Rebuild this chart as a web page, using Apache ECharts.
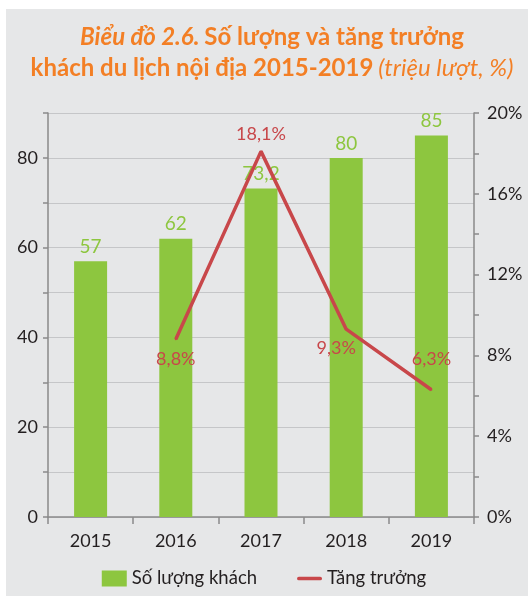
<!DOCTYPE html>
<html>
<head>
<meta charset="utf-8">
<script src="https://cdn.jsdelivr.net/npm/echarts@6/dist/echarts.min.js"></script>
<style>
  html, body { margin: 0; padding: 0; background: #fff; }
  #main { width: 528px; height: 596px; }
</style>
</head>
<body>
<div id="main"></div>
<script>
// dữ liệu
var years = ['2015', '2016', '2017', '2018', '2019'];
var soLuong = [57, 62, 73.2, 80, 85];          // triệu lượt
var tangTruong = [null, 8.8, 18.1, 9.3, 6.3];  // %
var soLuongText = ['57', '62', '73,2', '80', '85'];
var tangTruongText = ['', '8,8%', '18,1%', '9,3%', '6,3%'];

var FONT = 'Lato, "Noto Sans", sans-serif';
var GREEN = '#8dc63f';
var RED = '#c8474a';
var ORANGE = '#f37f25';

// vị trí nhãn đường
var linePos = [null,
  { position: 'bottom', distance: 10 },
  { position: 'top', distance: 7 },
  { position: 'bottom', distance: 9, offset: [-10, 0] },
  { position: 'top', distance: 21 }];

var myChart = echarts.init(document.getElementById('main'));
var option = {
  backgroundColor: '#fff',
  animation: false,
  graphic: [{
    type: 'rect', z: -10, silent: true,
    shape: { x: 6, y: 9, width: 522, height: 587 },
    style: { fill: '#e6e7e8' }
  }],
  title: {
    top: 17,
    left: 267,
    textAlign: 'center',
    text: '{i|Biểu đồ 2.6.} {b|Số lượng và tăng trưởng}\n{b|khách du lịch nội địa 2015-2019} {n|(triệu lượt, %)}',
    textStyle: {
      rich: {
        i: { fontFamily: FONT, fontSize: 24, fontStyle: 'italic', fontWeight: 'bold', color: ORANGE, lineHeight: 31 },
        b: { fontFamily: FONT, fontSize: 24, fontWeight: 'bold', color: ORANGE, lineHeight: 31 },
        n: { fontFamily: FONT, fontSize: 24, fontStyle: 'italic', fontWeight: 'normal', color: ORANGE, lineHeight: 31 }
      }
    }
  },
  legend: {
    top: 564,
    left: 'center',
    itemGap: 40,
    itemWidth: 25,
    itemHeight: 16,
    textStyle: { fontFamily: FONT, fontSize: 18.5, color: '#231f20' },
    data: [
      { name: 'Số lượng khách', icon: 'rect' },
      { name: 'Tăng trưởng', icon: 'path://M2,0L25,0A2,2,0,0,1,25,4L2,4A2,2,0,0,1,2,0Z', itemStyle: { color: RED } }
    ]
  },
  grid: { left: 48, right: 54, top: 113, bottom: 79 },
  xAxis: {
    type: 'category',
    data: years,
    boundaryGap: true,
    axisLine: { lineStyle: { color: '#8a8a8a', width: 1.5 } },
    axisTick: { show: true, length: 7, lineStyle: { color: '#8a8a8a', width: 1.5 } },
    axisLabel: { fontFamily: FONT, fontSize: 18, color: '#231f20', margin: 15 }
  },
  yAxis: [{
    type: 'value',
    min: 0, max: 90, interval: 10,
    axisLine: { show: true, lineStyle: { color: '#8a8a8a', width: 1.5 } },
    axisTick: { show: true, length: 5, lineStyle: { color: '#8a8a8a', width: 1.5 } },
    splitLine: { show: true, lineStyle: { color: '#c5c6c8', width: 1 } },
    axisLabel: {
      fontFamily: FONT, fontSize: 18, color: '#231f20', margin: 10,
      formatter: function (v) { return v % 20 === 0 ? String(v) : ''; }
    }
  }, {
    type: 'value',
    min: 0, max: 20, interval: 2,
    axisLine: { show: true, lineStyle: { color: '#8a8a8a', width: 1.5 } },
    axisTick: { show: true, length: 5, lineStyle: { color: '#8a8a8a', width: 1.5 } },
    splitLine: { show: false },
    axisLabel: {
      fontFamily: FONT, fontSize: 18, color: '#231f20', margin: 13,
      formatter: function (v) { return v % 4 === 0 ? v + '%' : ''; }
    }
  }],
  series: [{
    name: 'Số lượng khách',
    type: 'bar',
    data: soLuong,
    barWidth: 33,
    itemStyle: { color: GREEN },
    label: {
      show: true, position: 'top', distance: 5,
      fontFamily: FONT, fontSize: 19, color: GREEN,
      formatter: function (p) { return soLuongText[p.dataIndex]; }
    }
  }, {
    name: 'Tăng trưởng',
    type: 'line',
    yAxisIndex: 1,
    data: tangTruong.map(function (v, i) {
      if (v === null) return null;
      return { value: v, label: linePos[i] };
    }),
    symbol: 'circle',
    symbolSize: 2,
    showSymbol: true,
    lineStyle: { color: RED, width: 3.5 },
    itemStyle: { color: RED },
    z: 5,
    label: {
      show: true,
      fontFamily: FONT, fontSize: 18, color: RED,
      formatter: function (p) { return tangTruongText[p.dataIndex]; }
    }
  }]
};
myChart.setOption(option);
</script>
</body>
</html>
